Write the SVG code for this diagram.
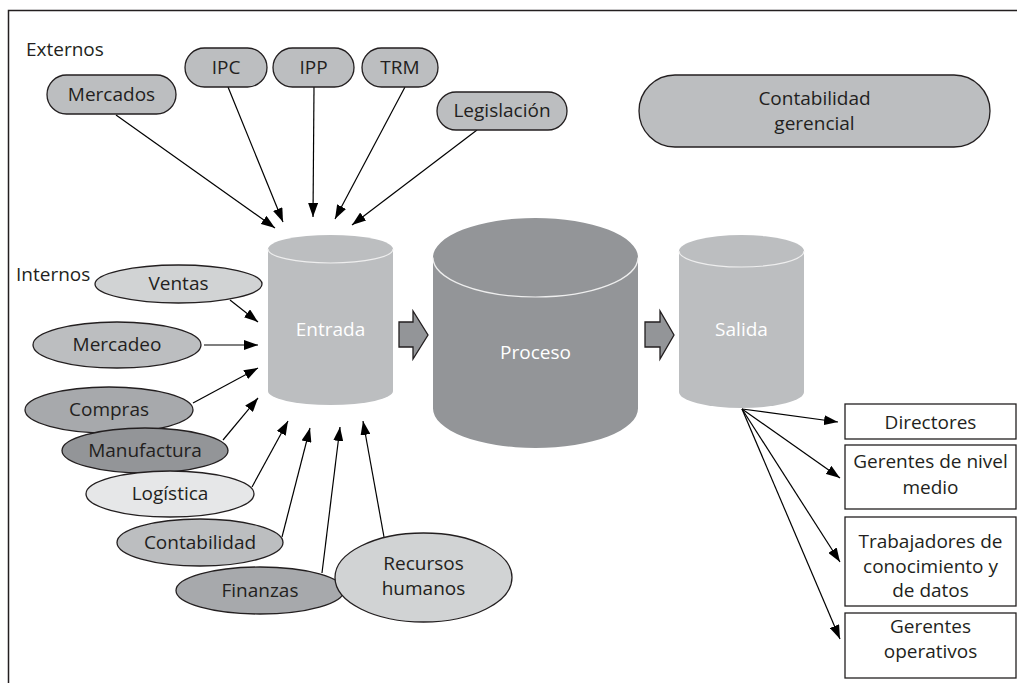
<svg xmlns="http://www.w3.org/2000/svg" width="1017" height="683" viewBox="0 0 1017 683">
<defs>
<style>
text{font-family:"Open Sans","Liberation Sans",sans-serif;font-size:19px;fill:#231f20}
.c{text-anchor:middle}
.w{fill:#ffffff;text-anchor:middle}
.n{stroke:#231f20;stroke-width:1.3}
.l1{fill:#e6e7e8}.l2{fill:#d1d3d4}.l3{fill:#bcbec0}.l4{fill:#a7a9ac}.l5{fill:#939598}
.cyl{stroke:none}
.rim{fill:none;stroke:#eeeeee;stroke-width:1.2}
.e{fill:none;stroke:#000;stroke-width:1.2;marker-end:url(#ah)}
.box{fill:#fff;stroke:#231f20;stroke-width:1.3}
</style>
<marker id="ah" viewBox="0 0 14 10" refX="14" refY="5" markerWidth="14" markerHeight="10" markerUnits="userSpaceOnUse" orient="auto">
<path d="M0,0 L14,5 L0,10 Z" fill="#000"/>
</marker>
</defs>
<rect x="8.5" y="10.5" width="1030" height="700" fill="none" stroke="#231f20" stroke-width="1.5"/>
<text x="26" y="56">Externos</text>
<text x="16" y="281">Internos</text>

<g id="connectors">
<path class="e" d="M116,115 L275,228"/>
<path class="e" d="M228,87 L283,222"/>
<path class="e" d="M314,87 L313,217"/>
<path class="e" d="M405,87 L335,219"/>
<path class="e" d="M477,130 L352,225"/>
<path class="e" d="M230,300 L258,322"/>
<path class="e" d="M204,345 L258,345"/>
<path class="e" d="M193,403 L258,368"/>
<path class="e" d="M223,440 L258,398"/>
<path class="e" d="M252,487 L288,421"/>
<path class="e" d="M282,537 L310,428"/>
<path class="e" d="M322,573 L340,427"/>
<path class="e" d="M384,537 L363,421"/>
<path class="e" d="M742,409 L838,422"/>
<path class="e" d="M742,409 L840,478"/>
<path class="e" d="M742,409 L840,562"/>
<path class="e" d="M742,409 L840,639"/>
<polygon class="n l5" points="399,322 413,322 413,311 428,335 413,359 413,347 399,347"/>
<polygon class="n l5" points="645,322 660,322 660,311 674,335 660,359 660,347 645,347"/>
</g>

<g id="mercados"><rect class="n l3" x="47" y="75" width="129" height="39" rx="19.5"/><text class="c" x="111.5" y="101">Mercados</text></g>
<g id="ipc"><rect class="n l3" x="185" y="48" width="82" height="39" rx="19.5"/><text class="c" x="226" y="74">IPC</text></g>
<g id="ipp"><rect class="n l3" x="273" y="48" width="81" height="39" rx="19.5"/><text class="c" x="313.5" y="74">IPP</text></g>
<g id="trm"><rect class="n l3" x="362" y="48" width="76" height="39" rx="19.5"/><text class="c" x="400" y="74">TRM</text></g>
<g id="legislacion"><rect class="n l3" x="437" y="92" width="130" height="38" rx="19"/><text class="c" x="502" y="117">Legislación</text></g>
<g id="contabilidad-gerencial"><rect class="n l3" x="639" y="75" width="351" height="72" rx="36"/><text class="c" x="814.5" y="105">Contabilidad</text><text class="c" x="814.5" y="130">gerencial</text></g>

<g id="entrada">
<path class="cyl l3" d="M268,249 A62.5,14 0 0 1 393,249 L393,391 A62.5,14 0 0 1 268,391 Z"/>
<path class="rim" d="M268,249 A62.5,14 0 0 0 393,249"/>
<text class="w" x="330.5" y="336">Entrada</text>
</g>
<g id="proceso">
<path class="cyl l5" d="M433,257.5 A102.5,39.5 0 0 1 638,257.5 L638,408.5 A102.5,39.5 0 0 1 433,408.5 Z"/>
<path class="rim" d="M433,257.5 A102.5,39.5 0 0 0 638,257.5"/>
<text class="w" x="535.5" y="359">Proceso</text>
</g>
<g id="salida">
<path class="cyl l3" d="M679,251 A62.5,16 0 0 1 804,251 L804,392 A62.5,16 0 0 1 679,392 Z"/>
<path class="rim" d="M679,251 A62.5,16 0 0 0 804,251"/>
<text class="w" x="741.5" y="336">Salida</text>
</g>

<g id="ventas"><ellipse class="n l2" cx="178.5" cy="284" rx="83.5" ry="19"/><text class="c" x="178.5" y="290">Ventas</text></g>
<g id="mercadeo"><ellipse class="n l3" cx="117" cy="345" rx="84" ry="23"/><text class="c" x="117" y="351">Mercadeo</text></g>
<g id="compras"><ellipse class="n l4" cx="109" cy="410" rx="84" ry="23"/><text class="c" x="109" y="416">Compras</text></g>
<g id="manufactura"><ellipse class="n l5" cx="145" cy="450.5" rx="83" ry="22.5"/><text class="c" x="145" y="457">Manufactura</text></g>
<g id="logistica"><ellipse class="n l1" cx="170" cy="494" rx="84" ry="23"/><text class="c" x="170" y="500">Logística</text></g>
<g id="contabilidad"><ellipse class="n l3" cx="200" cy="542.5" rx="83" ry="23.5"/><text class="c" x="200" y="549">Contabilidad</text></g>
<g id="finanzas"><ellipse class="n l4" cx="260" cy="590.5" rx="84" ry="23.5"/><text class="c" x="260" y="597">Finanzas</text></g>
<g id="recursos-humanos"><ellipse class="n l2" cx="423.5" cy="577.5" rx="88.5" ry="44.5"/><text class="c" x="423.5" y="570">Recursos</text><text class="c" x="423.5" y="595">humanos</text></g>

<g id="directores"><rect class="box" x="845" y="404" width="171" height="35"/><text class="c" x="930.5" y="429">Directores</text></g>
<g id="gerentes-medio"><rect class="box" x="845" y="445" width="171" height="64"/><text class="c" x="930.5" y="468">Gerentes de nivel</text><text class="c" x="930.5" y="494">medio</text></g>
<g id="trabajadores"><rect class="box" x="845" y="517" width="171" height="89"/><text class="c" x="930.5" y="548">Trabajadores de</text><text class="c" x="930.5" y="573">conocimiento y</text><text class="c" x="930.5" y="597">de datos</text></g>
<g id="gerentes-operativos"><rect class="box" x="845" y="613" width="171" height="65"/><text class="c" x="930.5" y="633">Gerentes</text><text class="c" x="930.5" y="658">operativos</text></g>
</svg>
